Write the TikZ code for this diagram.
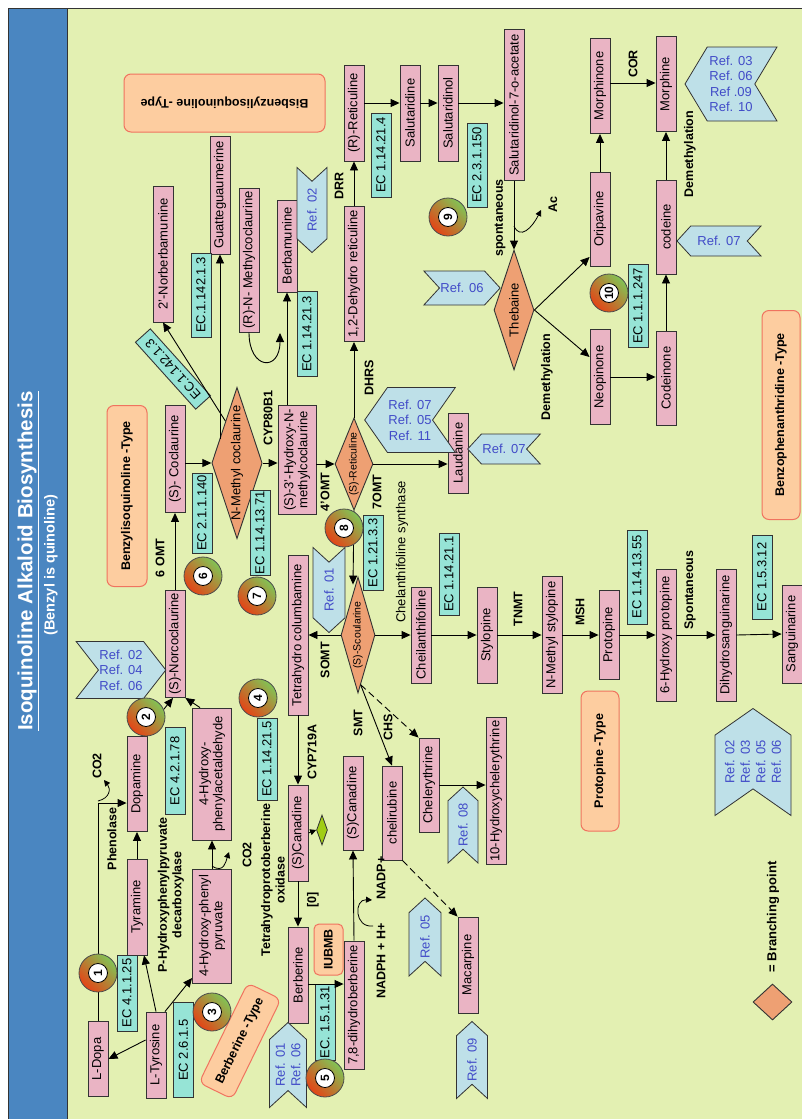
\documentclass[tikz,border=0pt]{standalone}
\usepackage{fontspec}
\setmainfont{Liberation Sans}
\usepackage{tikz}
\usetikzlibrary{positioning,arrows.meta,shapes.geometric,shapes.symbols,calc}
\definecolor{PanelGreen}{RGB}{227,240,178}
\definecolor{TitleBlue}{RGB}{74,134,193}
\definecolor{CompPink}{RGB}{234,180,196}
\definecolor{EcCyan}{RGB}{150,228,214}
\definecolor{RefBlue}{RGB}{190,224,232}
\definecolor{RefText}{RGB}{65,75,200}
\definecolor{BranchOrange}{RGB}{238,160,115}
\definecolor{TypeFill}{RGB}{253,205,160}
\definecolor{TypeLine}{RGB}{240,115,95}
\definecolor{RingGreen}{RGB}{130,195,85}
\definecolor{RingRed}{RGB}{228,68,22}
\definecolor{LimeGreen}{RGB}{160,205,20}

\begin{document}
\begin{tikzpicture}[x=1pt, y=-1pt,
    cmpd/.style={rectangle, draw=black!80, fill=CompPink, line width=0.9pt,
        rotate=90, minimum height=20pt, inner sep=1pt,
        font=\fontsize{13}{14}\selectfont, align=center},
    ecbox/.style={cmpd, fill=EcCyan},
    branch/.style={diamond, draw=black!80, fill=BranchOrange, line width=0.9pt,
        rotate=90, inner sep=0pt, aspect=2.5, font=\fontsize{13}{14}\selectfont},
    typebox/.style={rectangle, rounded corners=7pt, draw=TypeLine, fill=TypeFill,
        line width=1pt, font=\fontsize{12.5}{14}\selectfont\bfseries},
    refflag/.style={signal, draw=black!80, fill=RefBlue, text=RefText, line width=0.8pt,
        inner sep=1pt, align=center, font=\fontsize{13}{15.5}\selectfont,
        signal pointer angle=95},
    stepring/.style={circle, draw=black!70, line width=0.8pt, minimum size=38pt,
        top color=RingGreen, bottom color=RingRed, shading angle=-45},
    stepnum/.style={circle, draw=black, fill=white, line width=0.8pt, minimum size=19pt,
        inner sep=0pt, rotate=90, font=\fontsize{12}{12}\selectfont\bfseries},
    lbl/.style={rotate=90, align=center, inner sep=1pt,
        font=\fontsize{12.5}{14.5}\selectfont\bfseries},
    arr/.style={-{Triangle[length=9pt,width=8pt]}, line width=0.9pt},
    harr/.style={-{Triangle[length=6pt,width=6pt]}, line width=0.8pt},
]
\useasboundingbox (0,0) rectangle (801,1119);
% frame and title band
\fill[white] (0,0) rectangle (801,1119);
\draw[fill=PanelGreen, draw=black!80, line width=1pt] (8,8) rectangle (830,1140);
\fill[TitleBlue] (8.5,8.5) rectangle (67,1140);
\draw[black!80, line width=1pt] (67,8) -- (67,1140);
\draw[black!80, line width=1pt] (8,1140) |- (830,8);
\node[rotate=90, text=white, font=\fontsize{20.5}{22}\selectfont\bfseries] (title) at (28,561)
    {\underline{Isoquinoline Alkaloid Biosynthesis}};
\node[rotate=90, text=white, font=\fontsize{14.5}{16}\selectfont\bfseries] (subtitle) at (51,565)
    {(Benzyl is quinoline)};

% type boxes
\node[typebox, rotate=90, minimum width=181pt, minimum height=40pt] (tbenzyl) at (127,496) {Benzylisoquinoline -Type};
\node[typebox, rotate=180, minimum width=201pt, minimum height=58pt] (tbisbenz) at (224.5,103) {Bisbenzylisoquinoline -Type};
\node[typebox, rotate=64, minimum width=111pt, minimum height=37pt] (tberb) at (240,1041) {Berberine -Type};
\node[typebox, rotate=90, minimum width=140pt, minimum height=38pt] (tprot) at (600,761) {Protopine -Type};
\node[typebox, rotate=90, minimum width=209pt, minimum height=38pt] (tbenzo) at (781,415) {Benzophenanthridine -Type};
\node[typebox, rotate=90, minimum width=51pt, minimum height=29pt, rounded corners=5pt] (iubmb) at (328.5,949.5) {IUBMB};

% compounds
\node[cmpd, minimum width=75pt] (ldopa) at (98,1059) {L-Dopa};
\node[cmpd, minimum width=86pt] (ltyr) at (156,1055) {L-Tyrosine};
\node[cmpd, minimum width=96pt] (tyr) at (137,907) {Tyramine};
\node[cmpd, minimum width=95pt] (dopa) at (137,784) {Dopamine};
\node[cmpd, minimum width=114pt, minimum height=39pt] (hpp) at (212,926) {4-Hydroxy-phenyl\\pyruvate};
\node[cmpd, minimum width=132pt, minimum height=39pt] (hpa) at (212,774) {4-Hydroxy-\\phenylacetaldehyde};
\node[cmpd, minimum width=107pt] (norc) at (175,644) {(S)-Norcoclaurine};
\node[cmpd, minimum width=107pt] (coc) at (175,459) {(S)- Coclaurine};
\node[branch, minimum width=150pt, minimum height=50pt, aspect=3] (nmc) at (237,463) {N-Methyl coclaurine};
\node[cmpd, minimum width=136pt] (nbb) at (163,254) {2'-Norberbamunine};
\node[cmpd, minimum width=118pt] (gua) at (220,195) {Guatteguaumerine};
\node[cmpd, minimum width=144pt] (rnm) at (249,260) {(R)-N- Methylcoclaurine};
\node[cmpd, minimum width=92pt] (bbm) at (287,246) {Berbamunine};
\node[cmpd, minimum width=109pt, minimum height=38pt] (hnm) at (297,460) {(S)-3'-Hydroxy-N-\\methylcoclaurine};
\node[branch, minimum width=92pt, minimum height=38pt, font=\fontsize{10.5}{12}\selectfont] (sret) at (354,464) {(S)-Reticuline};
\node[cmpd, minimum width=135pt] (dhr) at (354,274) {1,2-Dehydro reticuline};
\node[cmpd, minimum width=96pt] (rret) at (354,113) {(R)-Reticuline};
\node[cmpd, minimum width=96pt] (sald) at (410,113) {Salutaridine};
\node[cmpd, minimum width=96pt] (saldol) at (448,113) {Salutaridinol};
\node[cmpd, minimum width=151pt] (sac) at (514,105) {Salutaridinol-7-o-acetate};
\node[branch, minimum width=120pt, minimum height=40pt, aspect=3] (theb) at (514,310) {Thebaine};
\node[cmpd, minimum width=95pt] (neo) at (600,377) {Neopinone};
\node[cmpd, minimum width=94pt] (ori) at (600,219) {Oripavine};
\node[cmpd, minimum width=95pt] (mone) at (600,86) {Morphinone};
\node[cmpd, minimum width=95pt] (mor) at (666,84) {Morphine};
\node[cmpd, minimum width=94pt] (cod) at (666,227) {codeine};
\node[cmpd, minimum width=94pt] (cdn) at (666,378) {Codeinone};
\node[cmpd, minimum width=80pt] (lau) at (458,453) {Laudanine};
\node[branch, minimum width=116pt, minimum height=34pt, aspect=3, font=\fontsize{10.5}{12}\selectfont] (scoul) at (358,635) {(S)-Scoularine};
\node[cmpd, minimum width=160pt] (thc) at (298,635) {Tetrahydro columbamine};
\node[cmpd, minimum width=96pt] (chei) at (421,635) {Cheilanthifoline};
\node[cmpd, minimum width=96pt] (sty) at (487,635) {Stylopine};
\node[cmpd, minimum width=117pt] (nms) at (552,635) {N-Methyl stylopine};
\node[cmpd, minimum width=89pt] (prot) at (609,635) {Protopine};
\node[cmpd, minimum width=132pt] (hprot) at (666,635) {6-Hydroxy protopine};
\node[cmpd, minimum width=132pt] (dhs) at (726,635) {Dihydrosanguinarine};
\node[cmpd, minimum width=98pt] (sang) at (792,634) {Sanguinarine};
\node[cmpd, minimum width=96pt] (can1) at (298,833) {(S)Canadine};
\node[diamond, draw=black!80, fill=LimeGreen, line width=0.8pt, inner sep=0pt,
    minimum width=11pt, minimum height=30pt] (lime) at (322,830) {};
\node[cmpd, minimum width=94pt] (can2) at (353,803) {(S)Canadine};
\node[cmpd, minimum width=94pt] (chr) at (392,813) {chelirubine};
\node[cmpd, minimum width=94pt] (chy) at (429,785) {Chelerythrine};
\node[cmpd, minimum width=147pt] (hchy) at (496,791) {10-Hydroxychelerythrine};
\node[cmpd, minimum width=96pt] (berb) at (298,975) {Berberine};
\node[cmpd, minimum width=128pt] (dhb) at (354,1005) {7,8-dihydroberberine};
\node[cmpd, minimum width=96pt] (mac) at (468,965) {Macarpine};

% enzyme numbers
\node[ecbox, minimum width=76pt] (ec1) at (127,993) {EC 4.1.1.25};
\node[ecbox, minimum width=95pt] (ec2) at (183.5,1050) {EC 2.6.1.5};
\node[ecbox, minimum width=87pt] (ec3) at (175,771) {EC 4.2.1.78};
\node[ecbox, minimum width=82pt] (ec4) at (267,759) {EC 1.14.21.5};
\node[ecbox, minimum width=80pt] (ec5) at (202,513) {EC 2.1.1.140};
\node[ecbox, minimum width=85pt] (ec6) at (260,533) {EC 1.14.13.71};
\node[ecbox, rotate=42, minimum width=90pt] (ec7) at (173,369) {EC.1.142.1.3};
\node[ecbox, minimum width=84pt] (ec8) at (201,295) {EC.1.142.1.3};
\node[ecbox, minimum width=85pt] (ec9) at (307,334) {EC 1.14.21.3};
\node[ecbox, minimum width=84pt] (ec10) at (381,155) {EC 1.14.21.4};
\node[ecbox, minimum width=84pt] (ec11) at (477,165) {EC 2.3.1.150};
\node[ecbox, minimum width=83pt] (ec12) at (638,306) {EC 1.1.1.247};
\node[ecbox, minimum width=75pt] (ec13) at (373,553) {EC 1.21.3.3};
\node[ecbox, minimum width=82pt] (ec14) at (449,574) {EC 1.14.21.1};
\node[ecbox, minimum width=94pt] (ec15) at (637,577) {EC 1.14.13.55};
\node[ecbox, minimum width=84pt] (ec16) at (762,577) {EC 1.5.3.12};
\node[ecbox, minimum width=76pt] (ec17) at (325,1022) {EC. 1.5.1.31};

% references
\node[refflag, signal to=east, signal from=west, minimum width=82pt, minimum height=57pt, signal pointer angle=104] (ref246) at (121,670) {Ref. 02\\Ref. 04\\Ref. 06};
\node[refflag, signal to=west, signal from=east, minimum width=92pt, minimum height=74pt, signal pointer angle=118] (ref36910) at (731,84) {Ref. 03\\Ref. 06\\Ref .09\\Ref. 10};
\node[refflag, signal to=west, signal from=east, minimum width=84pt, minimum height=30pt] (ref7cod) at (719,241) {Ref. 07};
\node[refflag, signal to=east, signal from=west, minimum width=75pt, minimum height=34pt] (ref6theb) at (462,288) {Ref. 06};
\node[refflag, signal to=west, signal from=east, minimum width=74pt, minimum height=65pt, signal pointer angle=110] (ref7511) at (410,420) {Ref. 07\\Ref. 05\\Ref. 11};
\node[refflag, signal to=west, signal from=east, minimum width=72pt, minimum height=30pt] (ref7lau) at (504,449) {Ref. 07};
\node[refflag, rotate=90, signal to=west, signal from=east, minimum width=85pt, minimum height=30pt] (ref2bbm) at (312,210) {Ref. 02};
\node[refflag, rotate=90, signal to=west, signal from=east, minimum width=85pt, minimum height=32pt] (ref1) at (329,590) {Ref. 01};
\node[refflag, rotate=90, signal to=east, signal from=west, minimum width=76pt, minimum height=30pt] (ref8) at (463,825) {Ref. 08};
\node[refflag, rotate=90, signal to=east, signal from=west, minimum width=107pt, minimum height=76pt, signal pointer angle=110] (ref2356) at (753,762) {Ref. 02\\Ref. 03\\Ref. 05\\Ref. 06};
\node[refflag, rotate=90, signal to=east, signal from=west, minimum width=85pt, minimum height=37pt] (ref16) at (288,1065) {Ref. 01\\Ref. 06};
\node[refflag, rotate=90, signal to=east, signal from=west, minimum width=78pt, minimum height=32pt] (ref5) at (425,937) {Ref. 05};
\node[refflag, rotate=90, signal to=east, signal from=west, minimum width=77pt, minimum height=31pt] (ref9) at (472,1060) {Ref. 09};

% enzyme and step labels
\node[lbl] (lphen) at (112,839) {Phenolase};
\node[lbl] (lhppd) at (171,895) {P-Hydroxyphenylpyruvate\\decarboxylase};
\node[lbl] (lco2a) at (97,766) {CO2};
\node[lbl] (lco2b) at (247,855) {CO2};
\node[lbl] (ltpbo) at (273,880) {Tetrahydroprotoberberine\\oxidase};
\node[lbl] (l6omt) at (160,558) {6 OMT};
\node[lbl] (lcyp80) at (268,418) {CYP80B1};
\node[lbl] (l4omt) at (325,492) {4'OMT};
\node[lbl] (l7omt) at (377,492) {7OMT};
\node[lbl] (ldhrs) at (369,378) {DHRS};
\node[lbl] (ldrr) at (339,186) {DRR};
\node[lbl] (lspon) at (500,218) {spontaneous};
\node[lbl] (lac) at (553,205) {Ac};
\node[lbl] (ldem1) at (547,377) {Demethylation};
\node[lbl] (ldem2) at (690,154) {Demethylation};
\node[lbl] (lcor) at (633,64) {COR};
\node[lbl] (lsomt) at (325,660) {SOMT};
\node[lbl] (ltnmt) at (518,609) {TNMT};
\node[lbl] (lmsh) at (580,612) {MSH};
\node[lbl] (lspon2) at (690,590) {Spontaneous};
\node[lbl] (lcyp719) at (312,752) {CYP719A};
\node[lbl] (lsmt) at (358,723) {SMT};
\node[lbl] (lchs) at (388,727) {CHS};
\node[lbl] (lox) at (313,900) {[0]};
\node[lbl] (lnadph) at (381,961) {NADPH + H+};
\node[lbl] (lnadp) at (381,878) {NADP+};
\node[lbl, font=\fontsize{13}{14}\selectfont] (lchs2) at (402,552) {Chelanthifoline synthase};

% legend
\node[diamond, draw=black!80, fill=BranchOrange, line width=0.9pt, inner sep=0pt,
    minimum width=39pt, minimum height=36pt] (legdia) at (772.5,1002) {};
\node[lbl, font=\fontsize{13}{14}\selectfont\bfseries] (leg) at (773,917) {= Branching point};

% helper points
\coordinate (nmcgua) at ($(nmc.north)!0.32!(nmc.east)$);
\coordinate (scoulout) at ($(scoul.west)!0.15!(scoul.south)$);
\coordinate (bbmjoin) at (280,333);
\coordinate (hookA1) at (98,801);
\coordinate (hookA2) at (104,780);
\coordinate (hookB1) at (212,866);
\coordinate (hookB2) at (229,852);
\coordinate (hookC1) at (514,226);
\coordinate (hookC2) at (541,210);
\coordinate (hookD1) at (373,926);
\coordinate (hookD2) at (372,900);

% connectors
\draw[arr] (ldopa.east) |- ([yshift=-19pt]dopa.north);
\draw[harr] (hookA1) .. controls (110,798) and (111,789) .. (hookA2);
\draw[arr] (tyr.east) -- (dopa.west);
\draw[arr] (ltyr.east) -- ([xshift=7pt]tyr.west);
\draw[arr] ([yshift=15pt]ltyr.north) -- (ldopa.south);
\draw[arr] ([xshift=9pt]ltyr.east) -- ([yshift=-52pt]hpp.north);
\draw[arr] (hpp.east) -- (hpa.west);
\draw[harr] (hookB1) .. controls (224,874) and (226,861) .. (hookB2);
\draw[arr] ([xshift=5pt]dopa.east) -- ([xshift=-2pt]norc.west);
\draw[arr] ([xshift=-12pt]hpa.east) -- (norc.south west);
\draw[arr] (norc.east) -- (coc.west);
\draw[arr] (coc.south |- nmc.north) -- (nmc.north);
\draw[arr] ($(nmc.north)!0.55!(nmc.east)$) -- (nbb.west);
\draw[arr] (gua.west |- nmcgua) -- (gua.west);
\draw[arr] (rnm.west) .. controls (249,370) and (280,372) .. (bbmjoin);
\draw[arr] (nmc.south) -- (nmc.south -| hnm.north);
\draw[arr] (bbm.west |- hnm.east) -- (bbm.west);
\draw[arr] (sret.north -| hnm.south) -- (sret.north);
\draw[arr] (sret.east) -- (dhr.west);
\draw[arr] (dhr.east) -- (rret.west);
\draw[arr] ([yshift=10pt]rret.south) -- ([yshift=10pt]sald.north);
\draw[arr] ([yshift=10pt]sald.south) -- ([yshift=10pt]saldol.north);
\draw[arr] ([yshift=10pt]saldol.south) -- ([yshift=10pt]saldol.south -| sac.north);
\draw[arr] (sac.west) -- (theb.east);
\draw[harr] (hookC1) .. controls (520,240) and (532,228) .. (hookC2);
\draw[arr] (theb.south) -- ([yshift=20pt]neo.north);
\draw[arr] (theb.south) -- ([yshift=-38pt]ori.north);
\draw[arr] (ori.east) -- (mone.west);
\draw[arr] ([yshift=3pt]mone.south) -- ([yshift=3pt]mone.south -| mor.north);
\draw[arr] (neo.south) -- (neo.south -| cdn.north);
\draw[arr] (cdn.east) -- (cod.west);
\draw[arr] (cod.east) -- (mor.west);
\draw[arr] (sret.south) -- (sret.south -| lau.north);
\draw[arr] (sret.west) -- ([xshift=-5pt, yshift=-8pt]scoul.east);
\draw[arr] (scoul.north) -- (thc.south);
\draw[arr] (scoul.south) -- (chei.north);
\draw[arr] (chei.south) -- (sty.north);
\draw[arr] (sty.south) -- (nms.north);
\draw[arr] (nms.south) -- (prot.north);
\draw[arr] (prot.south) -- (hprot.north);
\draw[arr] (hprot.south) -- (dhs.north);
\draw[arr] (dhs.south) -- (sang.north);
\draw[arr] (thc.west) -- (can1.east);
\draw[harr] (can1.south) -- (lime.west);
\draw[arr] (can1.west) -- (berb.east);
\draw[arr] ([yshift=-9pt]berb.south) -- ([yshift=-9pt]berb.south -| dhb.north);
\draw[arr] (dhb.east) -- (can2.west);
\draw[harr] (hookD1) .. controls (354,928) and (354,899) .. (hookD2);
\draw[arr] (scoulout) -- (chr.east);
\draw[arr, dash pattern=on 7pt off 4pt] (scoulout) -- (chy.north east);
\draw[arr] (chy.south) -- (chy.south -| hchy.north);
\draw[arr, dash pattern=on 7pt off 4pt] (chr.south west) -- (mac.north east);

% numbered steps
\foreach \n/\cx/\cy in {1/98/973, 2/146/717, 3/212/1012, 4/258/698, 5/325/1078,
    6/203/576, 7/257/596, 8/344/528, 9/448/217, 10/609/293} {
  \node[stepring] (ring\n) at (\cx,\cy) {};
  \node[stepnum] (num\n) at (ring\n) {\n};
}
\end{tikzpicture}
\end{document}
